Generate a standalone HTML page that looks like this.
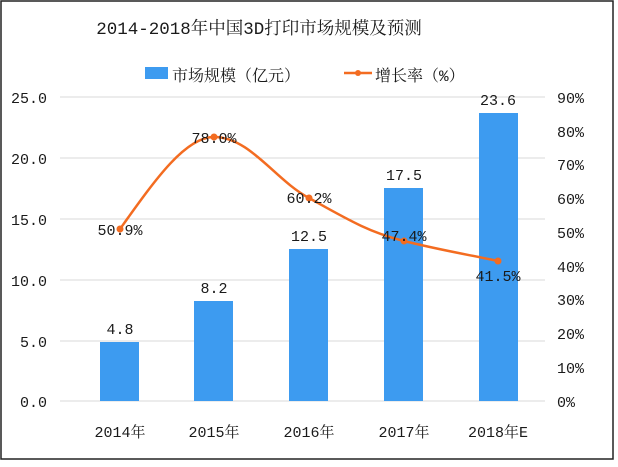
<!DOCTYPE html>
<html><head><meta charset="utf-8"><style>
body{margin:0;background:#fff}
svg text{font-family:"Liberation Mono","Noto Serif CJK SC",monospace;fill:#1a1a1a}
</style></head><body>
<svg width="618" height="462" xmlns="http://www.w3.org/2000/svg">
<rect x="1" y="1" width="612" height="458" fill="#fff" stroke="#222" stroke-width="1.5"/>
<text x="259" y="34" font-size="17.5" text-anchor="middle">2014-2018年中国3D打印市场规模及预测</text>
<rect x="145" y="67" width="23" height="12" fill="#3d9bf0"/>
<text x="172" y="81" font-size="16">市场规模（亿元）</text>
<line x1="344" y1="73" x2="372" y2="73" stroke="#f36c21" stroke-width="2.5"/>
<circle cx="358" cy="73" r="3" fill="#f36c21"/>
<text x="375" y="81" font-size="16">增长率（%）</text>
<g stroke="#d8d8d8" stroke-width="1">
<line x1="60" y1="97" x2="545" y2="97"/><line x1="60" y1="158" x2="545" y2="158"/>
<line x1="60" y1="219" x2="545" y2="219"/><line x1="60" y1="280" x2="545" y2="280"/>
<line x1="60" y1="341" x2="545" y2="341"/><line x1="60" y1="401" x2="545" y2="401"/>
</g>
<g font-size="15" text-anchor="end">
<text x="47" y="103">25.0</text><text x="47" y="164">20.0</text><text x="47" y="225">15.0</text>
<text x="47" y="286">10.0</text><text x="47" y="347">5.0</text><text x="47" y="407">0.0</text>
</g>
<g font-size="15">
<text x="557" y="103">90%</text><text x="557" y="137">80%</text><text x="557" y="170">70%</text>
<text x="557" y="204">60%</text><text x="557" y="238">50%</text><text x="557" y="272">40%</text>
<text x="557" y="305">30%</text><text x="557" y="339">20%</text><text x="557" y="373">10%</text>
<text x="557" y="407">0%</text>
</g>
<g fill="#3d9bf0">
<rect x="100" y="342" width="39" height="59"/><rect x="194" y="301" width="39" height="100"/>
<rect x="289" y="249" width="39" height="152"/><rect x="384" y="188" width="39" height="213"/>
<rect x="479" y="113" width="39" height="288"/>
</g>
<g font-size="15" text-anchor="middle">
<text x="120" y="334">4.8</text><text x="214" y="293">8.2</text><text x="309" y="241">12.5</text>
<text x="404" y="180">17.5</text><text x="498" y="105">23.6</text>
</g>
<path d="M120,229 C155,180 185,137 214,137 C250,137 275,180 309,198 C345,218 370,233 404,241 C440,250 470,255 498,261" fill="none" stroke="#f36c21" stroke-width="2.5"/>
<g fill="#f36c21">
<circle cx="120" cy="229" r="3.5"/><circle cx="214" cy="137" r="3.5"/><circle cx="309" cy="198" r="3.5"/>
<circle cx="404" cy="241" r="3.5"/><circle cx="498" cy="261" r="3.5"/>
</g>
<g font-size="15" text-anchor="middle">
<text x="120" y="235">50.9%</text><text x="214" y="143">78.0%</text><text x="309" y="203">60.2%</text>
<text x="404" y="241">47.4%</text><text x="498" y="281">41.5%</text>
</g>
<g font-size="15" text-anchor="middle">
<text x="120" y="437">2014年</text><text x="214" y="437">2015年</text><text x="309" y="437">2016年</text>
<text x="404" y="437">2017年</text><text x="498" y="437">2018年E</text>
</g>
</svg>
</body></html>
